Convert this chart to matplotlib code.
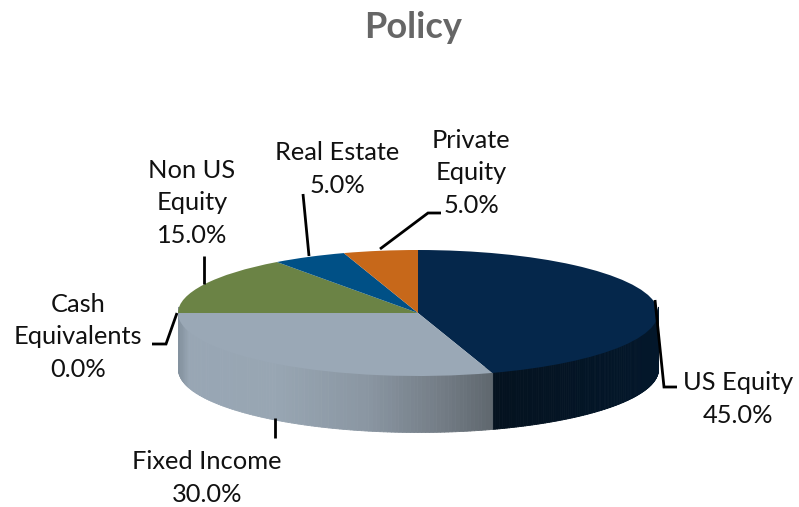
import matplotlib
matplotlib.use('Agg')
import matplotlib.pyplot as plt
import numpy as np
from matplotlib.colors import LinearSegmentedColormap

plt.rcParams['font.family'] = ['Lato', 'DejaVu Sans']

W, H = 799, 507

# Data
categories = ['US Equity', 'Fixed Income', 'Cash\nEquivalents', 'Non US\nEquity', 'Real Estate', 'Private\nEquity']
values = [45.0, 30.0, 0.0, 15.0, 5.0, 5.0]
top_colors = ['#05274b', '#9aa8b6', '#a0a0a0', '#6b8345', '#005086', '#c7681a']

# label centres and leader lines, in picture pixels
label_pos = [(738, 399), (207, 478), (78, 337), (192, 203), (337, 169), (471, 173)]
leaders = [
    [(655, 300), (664, 387), (677, 387)],
    [(275, 418), (275, 438)],
    [(177, 313), (166, 344), (152, 344)],
    [(204, 284), (204, 256)],
    [(309, 256), (303, 194)],
    [(380, 249), (428, 213), (441, 213)],
]

# pie geometry, in picture pixels
cx, cy, rx, ry = 418, 313, 240, 63
depth = 56 / ry

fig = plt.figure(figsize=(W / 100, H / 100), dpi=100)
ax = fig.add_axes([0, 0, 1, 1])


def px(x, y):
    return (x - cx) / rx, (cy - y) / ry


# Top face
wedges, _ = ax.pie(values, colors=top_colors, startangle=90, counterclock=False,
                   radius=1, center=(0, 0), wedgeprops={'linewidth': 0})
for w in wedges:
    w.set_zorder(3)

# Side wall, only the front half shows
fi_cmap = LinearSegmentedColormap.from_list('fi', [(0, '#84929f'), (0.03, '#98a6b4'), (0.3, '#98a6b3'),
                                                   (0.6, '#8a96a2'), (0.85, '#727b84'), (1, '#5f676e')])
eq_cmap = LinearSegmentedColormap.from_list('eq', [(0, '#04121f'), (1, '#03172b')])
angles = 90 - 360 * np.cumsum([0] + values) / sum(values)
for start, end, cmap in [(angles[0], angles[1], eq_cmap), (angles[1], angles[2], fi_cmap)]:
    start = min(start, 0)
    edges = np.linspace(start, end, 120)
    lo, hi = np.cos(np.radians(edges)).min(), np.cos(np.radians(edges)).max()
    for a, b in zip(edges[:-1], edges[1:]):
        t = np.radians(np.linspace(a, b, 4))
        xs = np.cos(t)
        ys = np.sin(t)
        c = cmap((xs.mean() - lo) / (hi - lo))
        ax.fill_between(xs, ys - depth, ys + 0.1, color=c, linewidth=0.6, antialiased=False, zorder=2)

ax.set_aspect('auto')
ax.set_xlim(*sorted([px(0, 0)[0], px(W, 0)[0]]))
ax.set_ylim(px(0, H)[1], px(0, 0)[1])
ax.axis('off')

# Title and labels
fig.text(413 / W, 1 - 27 / H, 'Policy', fontsize=26, fontweight='bold', color='#666666',
         ha='center', va='center')

for name, val, (lx, ly), line in zip(categories, values, label_pos, leaders):
    fig.text(lx / W, 1 - ly / H, f'{name}\n{val:.1f}%', fontsize=18.3, color='#111111',
             ha='center', va='center', linespacing=1.52, multialignment='center')
    pts = np.array(line, dtype=float)
    ax.plot((pts[:, 0] - cx) / rx, (cy - pts[:, 1]) / ry, color='black', lw=2.0, zorder=5,
            solid_capstyle='butt', solid_joinstyle='miter')

fig.savefig('out.png', dpi=100)
